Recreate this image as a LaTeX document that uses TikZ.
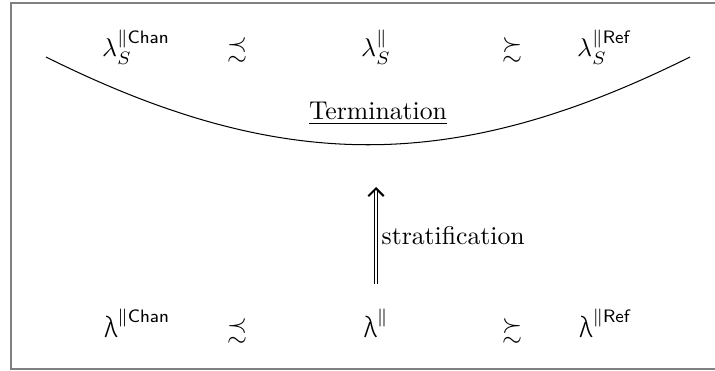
\documentclass[tikz,border=0pt]{standalone}
\usepackage{amsmath}
\usepackage{amssymb}
\usepackage{fontspec}
\usepackage{tikz}
\usetikzlibrary{arrows.meta}
\newfontfamily\lamsf[Scale=1.12]{Fira Sans Light}
\newcommand{\lamup}{\text{\lamsf λ}}

\begin{document}
\begin{tikzpicture}[
  x=0.389pt, y=-0.389pt,
  term/.style={anchor=base, inner sep=0pt},
  rel/.style={anchor=base, inner sep=0pt},
  arr/.style={double, thin, -{Straight Barb[length=3pt, width=6pt, line width=0.8pt]}},
  frame/.style={draw=gray, line width=0.8pt},
]
\useasboundingbox (0,0) rectangle (715,371);
\draw[frame] (11,3) rectangle (720,369);

% --- Top row ---
\node[term] (lamCS) at (136,57) {$\lambda_S^{\|\mathsf{Chan}}$};
\node[rel]  (precS) at (237,57) {$\precsim$};
\node[term] (lamS)  at (376,57) {$\lambda_S^{\|}$};
\node[rel]  (succS) at (512,57) {$\succsim$};
\node[term] (lamRS) at (604,57) {$\lambda_S^{\|\mathsf{Ref}}$};

% --- Curve ---
\coordinate (curveL) at (46,57);
\coordinate (curveR) at (690,57);
\draw (curveL) .. controls (281,174) and (455,174) .. (curveR);
\node[term] (termin) at (378,120) {\underline{Termination}};

% --- Bottom row ---
\node[term] (lamC) at (137,338) {$\lamup^{\|\mathsf{Chan}}$};
\node[rel]  (prec) at (237,338) {$\precsim$};
\node[term] (lam)  at (376,338) {$\lamup^{\|}$};
\node[rel]  (succ) at (512,338) {$\succsim$};
\node[term] (lamR) at (605,338) {$\lamup^{\|\mathsf{Ref}}$};

% --- Edges ---
\coordinate (arrBot) at (376,284);
\coordinate (arrTop) at (376,187);
\draw[arr] (arrBot) -- node[right, inner sep=2pt] {stratification} (arrTop);
\end{tikzpicture}
\end{document}
